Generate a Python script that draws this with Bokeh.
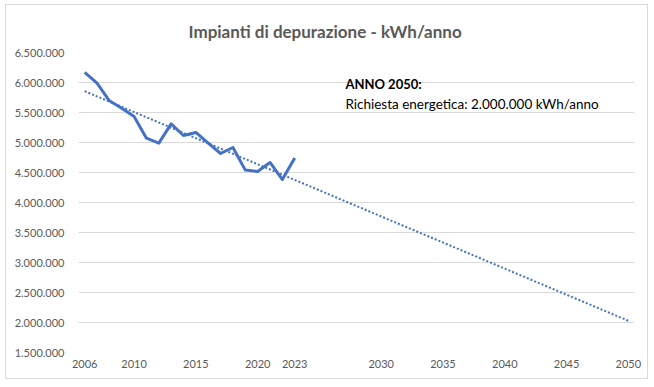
import numpy as np
from bokeh.plotting import figure
from bokeh.models import FixedTicker, Label, Range1d
from bokeh.embed import file_html
from bokeh.resources import INLINE

# ---- data ----
years = [2006, 2007, 2008, 2009, 2010, 2011, 2012, 2013, 2014, 2015,
         2016, 2017, 2018, 2019, 2020, 2021, 2022, 2023]
kwh = [6170000, 5990000, 5695000, 5572000, 5433000, 5072000, 4990000, 5310000,
       5117000, 5167000, 4990000, 4817000, 4917000, 4540000, 4517000, 4667000,
       4383000, 4740000]
trend_years = [2006, 2050]
x_ticks = [2006, 2010, 2015, 2020, 2023, 2030, 2035, 2040, 2045, 2050]
y_ticks = [1500000, 2000000, 2500000, 3000000, 3500000, 4000000, 4500000,
           5000000, 5500000, 6000000, 6500000]
y_tick_labels = ["1.500.000", "2.000.000", "2.500.000", "3.000.000", "3.500.000",
                 "4.000.000", "4.500.000", "5.000.000", "5.500.000", "6.000.000",
                 "6.500.000"]
title_text = "Impianti di depurazione - kWh/anno"
note_title = "ANNO 2050:"
note_text = "Richiesta energetica: 2.000.000 kWh/anno"

# linear trend (least squares) like Excel's trendline
coef = np.polyfit(years, kwh, 1)
trend_vals = [float(np.polyval(coef, y)) for y in trend_years]

BLUE = "#4472C4"
GRAY = "#595959"
GRID = "#d9d9d9"
FONT = "Lato"

p = figure(width=643, height=375, output_backend="svg", toolbar_location=None,
           x_range=Range1d(2005.5, 2050.5), y_range=Range1d(1500000, 6500000),
           min_border_left=72, min_border_right=15, min_border_top=47,
           min_border_bottom=28)
p.styles = {"margin-left": "5px", "margin-top": "4px",
            "border": "1px solid #d9d9d9", "box-sizing": "border-box"}

p.title.text = title_text
p.title.align = "left"
p.title.offset = 110
p.title.standoff = 22
p.title.text_font = FONT
p.title.text_font_size = "17px"
p.title.text_font_style = "bold"
p.title.text_color = GRAY

p.outline_line_color = None
p.background_fill_color = "white"
p.border_fill_color = "white"

p.xgrid.grid_line_color = None
p.ygrid.grid_line_color = GRID
p.ygrid.grid_line_width = 1

p.xaxis.ticker = FixedTicker(ticks=x_ticks)
p.yaxis.ticker = FixedTicker(ticks=y_ticks)
p.yaxis.major_label_overrides = {t: l for t, l in zip(y_ticks, y_tick_labels)}
for ax in (p.xaxis, p.yaxis):
    ax.axis_line_color = None
    ax.major_tick_line_color = None
    ax.minor_tick_line_color = None
    ax.major_label_text_font = FONT
    ax.major_label_text_font_size = "11px"
    ax.major_label_text_color = GRAY
p.yaxis.major_label_standoff = 8
p.xaxis.major_label_standoff = 1

p.line(trend_years, trend_vals, line_color=BLUE, line_width=2, line_dash="2 2")
p.line(years, kwh, line_color=BLUE, line_width=3, line_join="round")

p.add_layout(Label(x=2027.1, y=5983000, text=note_title, text_font=FONT,
                   text_font_size="13px", text_font_style="bold",
                   text_color="black", text_baseline="middle"))
p.add_layout(Label(x=2027.1, y=5650000, text=note_text, text_font=FONT,
                   text_font_size="13.5px", text_color="black",
                   text_baseline="middle"))

open("out.html", "w").write(file_html(p, INLINE))
